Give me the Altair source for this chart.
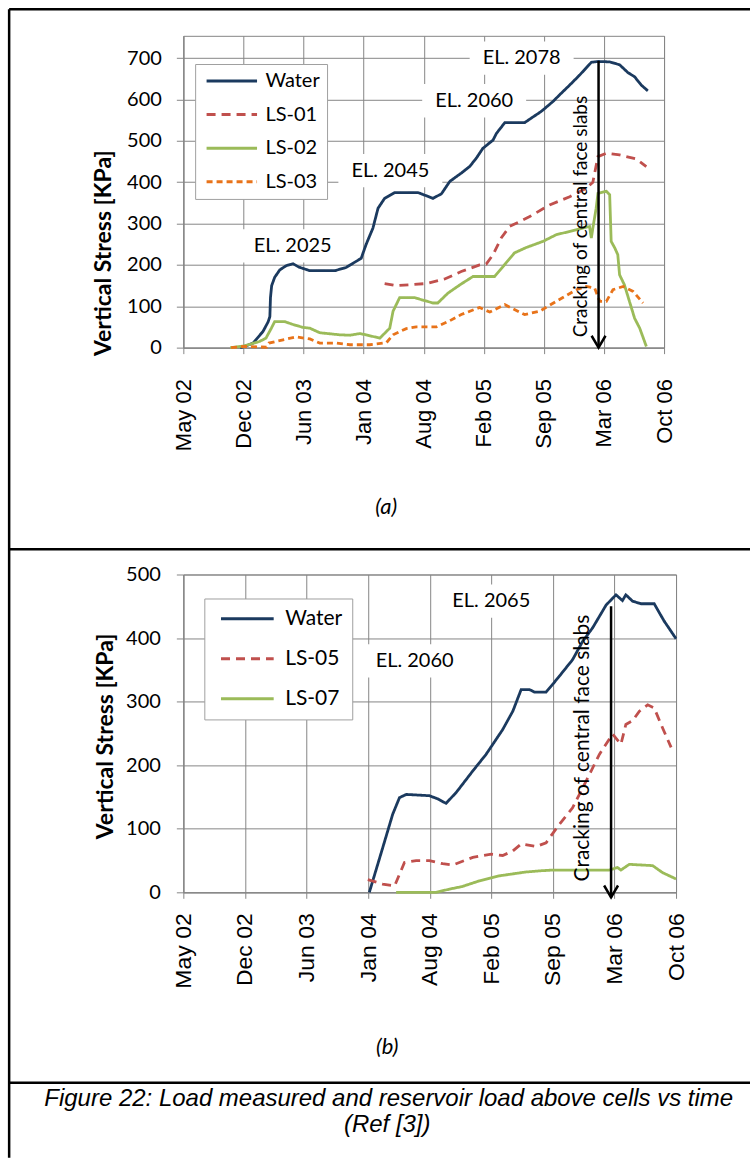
import altair as alt
import pandas as pd

FONT = "Lato"
DATEFONT = "Liberation Sans"
GRID = "#868686"

# ---------------- x axis ticks (Excel date axis, 200-day major unit) ----------------
tick_dates = ["2002-05-25", "2002-12-11", "2003-06-29", "2004-01-15", "2004-08-02",
              "2005-02-18", "2005-09-06", "2006-03-25", "2006-10-11"]
tick_ms = [int(pd.Timestamp(d, tz="UTC").value // 10**6) for d in tick_dates]

# ---------------- panel (a) data ----------------
series_a = ["Water", "LS-01", "LS-02", "LS-03"]
colors_a = ["#1B3A5F", "#C0504D", "#9BBB59", "#E8731A"]
dashes_a = [[1, 0], [9, 6], [1, 0], [6, 4]]

water_a_dates = ["2002-11-30", "2002-12-15", "2003-01-12", "2003-02-14", "2003-03-03", "2003-03-09",
                 "2003-03-11", "2003-03-15", "2003-03-25", "2003-04-11", "2003-05-02", "2003-05-25",
                 "2003-06-13", "2003-07-20", "2003-10-11", "2003-11-18", "2004-01-07", "2004-01-23",
                 "2004-02-15", "2004-03-03", "2004-03-25", "2004-04-28", "2004-07-14", "2004-09-02",
                 "2004-09-30", "2004-10-28", "2004-12-05", "2005-01-02", "2005-01-24", "2005-02-15",
                 "2005-03-21", "2005-04-01", "2005-04-29", "2005-07-04", "2005-07-26", "2005-08-28",
                 "2005-10-06", "2005-10-28", "2005-12-01", "2006-01-03", "2006-02-11", "2006-03-05",
                 "2006-04-13", "2006-05-16", "2006-06-13", "2006-07-05", "2006-07-27", "2006-08-18"]
water_a_vals = [0, 3, 11, 39, 62, 75, 121, 150, 170, 188, 198, 203, 195, 186, 186, 194, 216, 249,
                289, 337, 361, 375, 375, 361, 372, 402, 422, 438, 458, 482, 502, 518, 544, 544,
                555, 571, 595, 611, 635, 659, 690, 692, 691, 684, 665, 655, 635, 621]

ls01_dates = ["2004-03-25", "2004-05-03", "2004-08-11", "2004-10-11", "2004-12-05", "2005-02-04",
              "2005-02-26", "2005-03-21", "2005-04-17", "2005-05-15", "2005-07-21", "2005-09-25",
              "2005-12-01", "2006-01-25", "2006-02-16", "2006-03-05", "2006-04-02", "2006-05-16",
              "2006-07-11", "2006-08-13"]
ls01_vals = [155, 150, 155, 166, 184, 200, 202, 225, 265, 293, 317, 345, 365, 385, 400, 462, 470,
             466, 456, 438]

ls02_dates = ["2002-10-28", "2002-12-13", "2003-02-03", "2003-02-24", "2003-03-14", "2003-03-25",
              "2003-04-27", "2003-05-25", "2003-06-27", "2003-07-20", "2003-08-22", "2003-10-28",
              "2003-12-01", "2004-01-02", "2004-01-23", "2004-03-09", "2004-04-11", "2004-04-22",
              "2004-05-14", "2004-07-03", "2004-07-25", "2004-09-02", "2004-09-18", "2004-10-22",
              "2004-12-05", "2005-01-13", "2005-03-26", "2005-04-23", "2005-05-31", "2005-07-09",
              "2005-09-03", "2005-10-17", "2005-12-23", "2006-02-05", "2006-02-11", "2006-02-16",
              "2006-02-27", "2006-03-05", "2006-04-02", "2006-04-13", "2006-04-18", "2006-04-30",
              "2006-05-10", "2006-05-16", "2006-06-01", "2006-07-05", "2006-07-22", "2006-08-13"]
ls02_vals = [0, 4, 15, 23, 47, 63, 63, 56, 49, 47, 36, 31, 30, 34, 31, 23, 47, 88, 121, 121, 116,
             108, 108, 132, 154, 172, 172, 196, 229, 242, 257, 273, 285, 293, 265, 289, 337, 373,
             378, 370, 257, 241, 225, 176, 152, 71, 47, 3]

ls03_dates = ["2002-10-31", "2002-12-15", "2003-02-26", "2003-03-06", "2003-04-22", "2003-06-05",
              "2003-07-20", "2003-08-22", "2003-10-16", "2003-12-01", "2004-02-04", "2004-03-31",
              "2004-04-22", "2004-06-05", "2004-07-08", "2004-09-13", "2004-10-28", "2004-12-05",
              "2005-02-04", "2005-03-10", "2005-04-29", "2005-07-04", "2005-08-23", "2005-10-17",
              "2005-12-23", "2006-01-25", "2006-02-22", "2006-03-11", "2006-04-02", "2006-04-24",
              "2006-05-28", "2006-06-30", "2006-08-02"]
ls03_vals = [0, 3, 1, 11, 19, 26, 21, 11, 11, 7, 7, 12, 31, 46, 50, 50, 65, 80, 97, 86, 104, 80,
             88, 112, 140, 148, 144, 112, 112, 140, 148, 136, 108]

el_a_text = ["EL. 2025", "EL. 2045", "EL. 2060", "EL. 2078"]
el_a_dates = ["2003-05-24", "2004-04-13", "2005-01-17", "2005-06-24"]
el_a_vals = [246, 428, 597, 700]

arrow_a = {"date": "2006-03-07", "top": 693, "bottom": 0}
crack_a = {"date": "2006-01-07", "value": 317}

# ---------------- panel (b) data ----------------
series_b = ["Water", "LS-05", "LS-07"]
colors_b = ["#1B3A5F", "#C0504D", "#9BBB59"]
dashes_b = [[1, 0], [9, 6], [1, 0]]

water_b_dates = ["2004-01-19", "2004-03-03", "2004-04-04", "2004-04-26", "2004-05-18", "2004-08-01",
                 "2004-08-28", "2004-09-24", "2004-10-27", "2004-12-20", "2005-02-01", "2005-03-27",
                 "2005-04-29", "2005-05-26", "2005-06-22", "2005-07-08", "2005-08-15", "2005-09-05",
                 "2005-09-27", "2005-11-09", "2005-12-12", "2006-01-13", "2006-02-26", "2006-03-30",
                 "2006-04-20", "2006-05-01", "2006-05-23", "2006-06-19", "2006-08-01", "2006-09-02",
                 "2006-10-11"]
water_b_vals = [0, 71, 123, 149, 154, 152, 147, 140, 157, 191, 217, 256, 285, 319, 319, 315, 315,
                327, 340, 366, 395, 416, 452, 468, 459, 468, 458, 454, 454, 427, 399]

ls05_dates = ["2004-01-14", "2004-03-02", "2004-04-10", "2004-05-12", "2004-06-19", "2004-08-01",
              "2004-09-13", "2004-10-16", "2004-12-20", "2005-02-18", "2005-03-27", "2005-04-29",
              "2005-05-26", "2005-07-14", "2005-08-15", "2005-09-27", "2005-11-09", "2005-12-23",
              "2006-02-04", "2006-03-19", "2006-04-15", "2006-05-01", "2006-05-23", "2006-06-14",
              "2006-07-11", "2006-08-01", "2006-08-28", "2006-09-25"]
ls05_vals = [20, 13, 10, 47, 50, 50, 45, 43, 55, 60, 58, 65, 76, 72, 78, 107, 133, 175, 217, 249,
             233, 264, 270, 285, 295, 290, 259, 228]

ls07_dates = ["2004-04-15", "2004-08-23", "2004-10-05", "2004-11-15", "2005-01-10", "2005-03-17",
              "2005-06-11", "2005-08-01", "2005-09-05", "2006-03-08", "2006-04-04", "2006-04-15",
              "2006-05-12", "2006-06-19", "2006-07-27", "2006-08-28", "2006-10-11"]
ls07_vals = [0, 0, 5, 9, 18, 26, 32, 34, 35, 35, 39, 35, 44, 43, 42, 31, 21]

el_b_text = ["EL. 2060", "EL. 2065"]
el_b_dates = ["2004-06-14", "2005-02-18"]
el_b_vals = [364, 458]

arrow_b = {"date": "2006-03-14", "top": 450, "bottom": -8}
crack_b = {"date": "2005-12-14", "value": 227}

CRACK_TEXT = "Cracking of central face slabs"
CAPTION_1 = "Figure 22: Load measured and reservoir load above cells vs time"
CAPTION_2 = "(Ref [3])"

# ---------------- helpers ----------------
BOX = "M-1,-0.32L1,-0.32L1,0.32L-1,0.32Z"
CHEVRON = "M-0.82,-1.4L0,0L0.82,-1.4"
one = pd.DataFrame({"k": [0]})


def series_frame(names, date_lists, val_lists):
    rows = []
    for n, ds, vs in zip(names, date_lists, val_lists):
        for d, v in zip(ds, vs):
            rows.append({"date": d, "value": v, "series": n})
    return pd.DataFrame(rows)


def frame_rule(x, y, x2=None, y2=None, w=2.5):
    enc = dict(x=alt.value(x), y=alt.value(y))
    if x2 is not None:
        enc["x2"] = alt.value(x2)
    if y2 is not None:
        enc["y2"] = alt.value(y2)
    return alt.Chart(one).mark_rule(color="black", strokeWidth=w).encode(**enc)


def fixed_text(txt, x, y, size, font):
    return alt.Chart(one).mark_text(
        text=txt, font=font, fontSize=size, fontStyle="italic", align="center",
        baseline="middle", color="black"
    ).encode(x=alt.value(x), y=alt.value(y))


def panel(df, names, colors, dashes, ymax, yvals, width, height, xlab_size, xlab_pad,
          ylab_pad, title_x, title_y, leg, arrow, crack, crack_size, el_df, el_size):
    xdef = alt.X(
        "date:T", title=None,
        scale=alt.Scale(type="utc", domain=[tick_ms[0], tick_ms[-1]]),
        axis=alt.Axis(values=tick_ms, labelExpr="utcFormat(datum.value, '%b %y')",
                      labelAngle=270, labelAlign="right", labelBaseline="middle",
                      labelFont=DATEFONT, labelFontSize=xlab_size, labelPadding=xlab_pad,
                      tickSize=6, labelFlush=False, labelOverlap=False, grid=True),
    )
    ydef = alt.Y(
        "value:Q",
        scale=alt.Scale(domain=[0, ymax], nice=False, zero=False),
        axis=alt.Axis(values=yvals, title="Vertical Stress [KPa]", titleFont=FONT,
                      titleFontWeight="bold", titleFontSize=23, titleAngle=270,
                      titleAlign="center", titleBaseline="middle", titleX=title_x,
                      titleY=title_y, labelFont=FONT, labelFontSize=20,
                      labelPadding=ylab_pad, tickSize=7, grid=True, labelFlush=False),
    )

    boxes = alt.Chart(el_df).mark_point(
        shape=BOX, filled=True, color="white", size=10816, opacity=1, strokeWidth=0
    ).encode(x=xdef, y=ydef)

    lines = alt.Chart(df).mark_line(strokeWidth=2.8).encode(
        x=xdef, y=ydef,
        color=alt.Color("series:N", scale=alt.Scale(domain=names, range=colors),
                        legend=leg, title=None),
        strokeDash=alt.StrokeDash("series:N", scale=alt.Scale(domain=names, range=dashes),
                                  legend=leg, title=None),
    )

    adf = pd.DataFrame({"date": [arrow["date"]], "value": [arrow["top"]],
                        "value2": [arrow["bottom"]]})
    arrow_line = alt.Chart(adf).mark_rule(color="black", strokeWidth=2.5).encode(
        x=xdef, y=ydef, y2=alt.Y2("value2:Q"))
    hdf = pd.DataFrame({"date": [arrow["date"]], "value": [arrow["bottom"]]})
    arrow_head = alt.Chart(hdf).mark_point(
        shape=CHEVRON, filled=False, size=289, strokeWidth=2.5, color="black", opacity=1
    ).encode(x=xdef, y=ydef)

    cdf = pd.DataFrame({"date": [crack["date"]], "value": [crack["value"]],
                        "label": [CRACK_TEXT]})
    crack_text = alt.Chart(cdf).mark_text(
        angle=270, font=FONT, fontSize=crack_size, align="center", baseline="middle",
        color="black"
    ).encode(x=xdef, y=ydef, text="label:N")

    el_text = alt.Chart(el_df).mark_text(
        font=FONT, fontSize=el_size, align="center", baseline="middle", color="black"
    ).encode(x=xdef, y=ydef, text="label:N")

    return [boxes, lines, arrow_line, arrow_head, crack_text, el_text], width, height


# ---------------- panel (a) ----------------
df_a = series_frame(series_a, [water_a_dates, ls01_dates, ls02_dates, ls03_dates],
                    [water_a_vals, ls01_vals, ls02_vals, ls03_vals])
el_a = pd.DataFrame({"date": el_a_dates, "value": el_a_vals, "label": el_a_text})
leg_a = alt.Legend(orient="none", legendX=11.8, legendY=28.2, padding=7, clipHeight=20,
                   rowPadding=13.6, symbolType="stroke", symbolSize=2550,
                   symbolStrokeWidth=3, symbolOffset=2.7, labelOffset=6.6,
                   labelFont=FONT, labelFontSize=20, labelColor="black",
                   fillColor="white", strokeColor="#a0a0a0")
layers_a, wa, ha = panel(df_a, series_a, colors_a, dashes_a, 754, [0, 100, 200, 300, 400, 500, 600, 700],
                         481, 312, 22, 25, 15, -80, 217, leg_a, arrow_a, crack_a, 19, el_a, 20)
frame_a = [
    frame_rule(-174.3, -26.6, x2=567),            # top border
    frame_rule(-174.3, -26.6, y2=1122.7),         # left border (whole figure)
    frame_rule(-174.3, 513.7, x2=567),            # separator (a)/(b)
    fixed_text("(a)", 203, 471.7, 22, FONT),
]
panel_a = alt.layer(*layers_a, *frame_a).properties(width=wa, height=ha)

# ---------------- panel (b) ----------------
df_b = series_frame(series_b, [water_b_dates, ls05_dates, ls07_dates],
                    [water_b_vals, ls05_vals, ls07_vals])
el_b = pd.DataFrame({"date": el_b_dates, "value": el_b_vals, "label": el_b_text})
leg_b = alt.Legend(orient="none", legendX=21, legendY=24, padding=9.2, clipHeight=22,
                   rowPadding=18.1, symbolType="stroke", symbolSize=2777,
                   symbolStrokeWidth=3, symbolOffset=5.85, labelOffset=9.8,
                   labelFont=FONT, labelFontSize=21, labelColor="black",
                   fillColor="white", strokeColor="#a0a0a0")
layers_b, wb, hb = panel(df_b, series_b, colors_b, dashes_b, 500, [0, 100, 200, 300, 400, 500],
                         493, 318, 23, 14.5, 16, -78, 161.5, leg_b, arrow_b, crack_b, 21, el_b, 20)
frame_b = [
    frame_rule(-174.3, 508.5, x2=567),            # separator above caption
    fixed_text("(b)", 204, 472.5, 22, FONT),
    fixed_text(CAPTION_1, 205.5, 524.5, 24, DATEFONT),
    fixed_text(CAPTION_2, 204, 551, 24, DATEFONT),
]
panel_b = alt.layer(*layers_b, *frame_b).properties(width=wb, height=hb)

chart = alt.vconcat(panel_a, panel_b, spacing=227, bounds="flush").resolve_scale(
    color="independent", strokeDash="independent"
).resolve_legend(
    color="independent", strokeDash="independent"
).properties(
    padding={"left": 6.45, "top": 6.5, "right": 0, "bottom": 0}
).configure_view(
    stroke=GRID, strokeWidth=1
).configure_axis(
    gridColor=GRID, domainColor=GRID, tickColor=GRID, gridWidth=1, domainWidth=1,
    tickWidth=1, labelColor="black", titleColor="black"
)

chart.save("out.html", embed_options={"renderer": "svg", "actions": False})
